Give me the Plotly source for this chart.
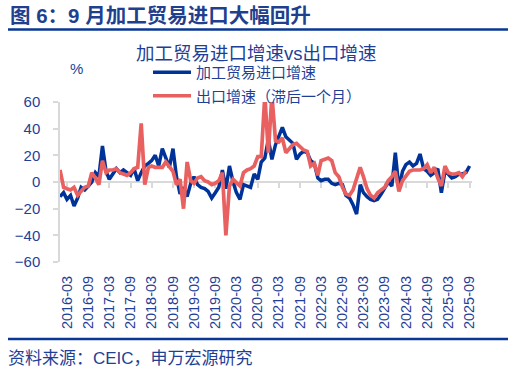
import plotly.graph_objects as go
import pandas as pd

# ---------------- data ----------------
months = pd.date_range("2016-01-01", periods=117, freq="MS")

processing_imports = [
    -11, -8, -13, -10, -18, -12, -4, -6, -3, 0, 7, 4,          # 2016
    27, 8, 2, 6, 10, 7, 9, 7, 5, 10, 1, 7,                     # 2017
    12, 14, 16, 20, 12, 25, 18, 11, 25, 4, -9, -4,             # 2018
    -11, -1, 4, -2, -4, -5, -7, -12, -8, -4, 9, -5,            # 2019
    12, 0, -8, -13, -2, -3, -4, 6, 2, 15, 18, 32,              # 2020
    17, 28, 34, 41, 34, 31, 29, 17, 21, 23, 22, 16,            # 2021
    14, 3, 1, 2, 2, -1, -2, -1, -2, -10, -12, -17,             # 2022
    -24, -2, -8, -11, -13, -14, -13, -9, -5, 0, -3, 22,        # 2023
    -5, 8, 13, 15, 12, 14, 21, 10, 8, 5, 7, 10,                # 2024
    -8, 8, 6, 3, 4, 6, 6, 7, 12,                               # 2025
]

exports_lagged = [
    9, -4, -5, -6, -4, -10, -7, -4, -3, 7, 3, -2,              # 2016
    16, 7, 9, 9, 10, 7, 6, 5, 7, 10, 11, 44,                   # 2017
    -2, 11, 12, 11, 11, 11, 15, 12, 8, -2, 2, -20,             # 2018
    15, 1, -1, 3, 4, 1, 0, -2, -1, 1, 7, -40,                  # 2019
    -3, 2, 0, -3, 7, 9, 10, 12, 19, 19, 65, 22,                # 2020
    65, 31, 30, 33, 22, 25, 28, 29, 26, 24, 23, 12,            # 2021
    14, 5, 16, 17, 18, 16, 7, 4, -4, -9, -10, -6,              # 2022
    3, 11, 4, -5, -10, -12, -8, -6, -4, 1, 4, 8,               # 2023
    -7, 1, 4, 8, 9, 9, 9, 10, 13, 7, 11, 3,                    # 2024
    -3, 12, 7, 6, 6, 7, 4, 8, None,                            # 2025
]

tick_labels = [
    "2016-03", "2016-09", "2017-03", "2017-09", "2018-03", "2018-09",
    "2019-03", "2019-09", "2020-03", "2020-09", "2021-03", "2021-09",
    "2022-03", "2022-09", "2023-03", "2023-09", "2024-03", "2024-09",
    "2025-03", "2025-09",
]
y_ticks = [60, 40, 20, 0, -20, -40, -60]

series_names = ["加工贸易进口增速", "出口增速（滞后一个月）"]

# ---------------- style ----------------
W, H = 529, 378
L, R, T, B = 60, 57, 102, 116
PW, PH = W - L - R, H - T - B
FONT = "Liberation Sans, Noto Sans CJK SC, sans-serif"
TXT = "#1F3F97"
NAVY = "#0A3796"
BLUE = "#003399"
RED = "#E8605F"
GREY = "#D9D9D9"


def px_x(p):
    return (p - L) / PW


def px_y(p):
    return (H - B - p) / PH


x_range = ["2016-01-01", "2025-09-22"]
tick_dates = [s + "-01" for s in tick_labels]

fig = go.Figure()
fig.add_trace(go.Scatter(
    x=months, y=processing_imports, name=series_names[0],
    mode="lines", line=dict(color=BLUE, width=3.5),
    xaxis="x", yaxis="y", legendgroup="a",
))
fig.add_trace(go.Scatter(
    x=months, y=exports_lagged, name=series_names[1],
    mode="lines", line=dict(color=RED, width=3.7),
    xaxis="x2", yaxis="y", legendgroup="b", connectgaps=False,
))

fig.update_layout(
    width=W, height=H,
    margin=dict(l=L, r=R, t=T, b=B, autoexpand=False),
    paper_bgcolor="white", plot_bgcolor="white",
    font=dict(family=FONT, color=TXT, size=15),
    showlegend=True,
    legend=dict(x=px_x(148), y=px_y(56), xanchor="left", yanchor="top",
                bgcolor="rgba(0,0,0,0)", font=dict(size=15, color=TXT),
                tracegroupgap=1, traceorder="grouped", itemwidth=38),
    xaxis=dict(type="date", range=x_range, tickvals=tick_dates, ticktext=tick_labels,
               tickangle=-90, showline=False, zeroline=False, showgrid=False,
               ticks="", ticklabelstandoff=10, automargin=False,
               tickfont=dict(size=14.5, color=TXT, family=FONT)),
    xaxis2=dict(type="date", range=x_range, overlaying="x", anchor="free", position=0.5,
                tickvals=tick_dates, showticklabels=False, ticks="outside", ticklen=5,
                tickcolor=GREY, tickwidth=1.5, showline=True, linecolor=GREY,
                linewidth=1.5, showgrid=False, zeroline=False, layer="below traces"),
    yaxis=dict(range=[-60, 60], tickvals=y_ticks, showgrid=False, zeroline=False,
               showline=True, linecolor=GREY, linewidth=1.5, ticks="outside",
               ticklen=5, tickcolor=GREY, tickwidth=1.5, ticklabelstandoff=10,
               automargin=False,
               tickfont=dict(size=15, color=TXT, family=FONT)),
)

fig.add_annotation(text="<b>图 6：9 月加工贸易进口大幅回升</b>", xref="paper", yref="paper",
                   x=px_x(8), y=px_y(16), xanchor="left", yanchor="middle",
                   showarrow=False, font=dict(size=20.5, color="#1F3F8F", family=FONT))
fig.add_annotation(text="加工贸易进口增速vs出口增速", xref="paper", yref="paper",
                   x=px_x(256), y=px_y(53), xanchor="center", yanchor="middle",
                   showarrow=False, font=dict(size=18.5, color=TXT, family=FONT))
fig.add_annotation(text="%", xref="paper", yref="paper", x=px_x(76), y=px_y(68),
                   xanchor="center", yanchor="middle", showarrow=False,
                   font=dict(size=15, color=TXT, family=FONT))
fig.add_annotation(text="资料来源：CEIC，申万宏源研究", xref="paper", yref="paper",
                   x=px_x(6), y=px_y(358), xanchor="left", yanchor="middle",
                   showarrow=False, font=dict(size=17, color=TXT, family=FONT))

for yy in (29.5, 339):
    fig.add_shape(type="line", xref="paper", yref="paper",
                  x0=px_x(8), x1=px_x(508), y0=px_y(yy), y1=px_y(yy),
                  line=dict(color=NAVY, width=2.5))

fig.write_html("out.html", config={"displayModeBar": False},
               post_script="document.body.style.margin='0';")
